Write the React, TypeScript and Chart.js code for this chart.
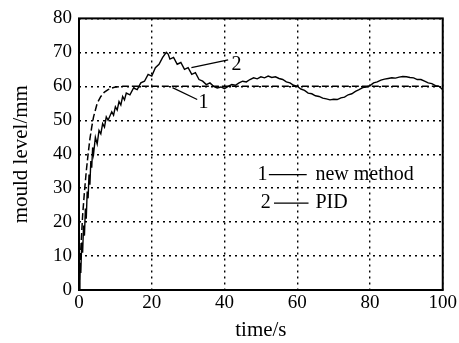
import React, { useEffect, useRef } from "react";
import { Chart, registerables } from "chart.js";

Chart.register(...registerables);

// New method (curve 1)
const newT = [0, 0.5, 1, 1.5, 2, 2.5, 3, 3.5, 4, 5, 6, 7, 8, 9, 10, 12, 20, 40, 60, 80, 100];
const newV = [0, 12, 22, 29, 35, 40, 44.5, 48, 51, 55, 57, 58.3, 59, 59.5, 59.8, 60, 60, 60, 60, 60, 60];

// PID (curve 2)
const pidT = [
  0, 0.25, 0.5, 0.75, 1, 1.25, 1.5, 1.75, 2, 2.25, 2.5, 2.75, 3, 3.25, 3.5, 3.75, 4, 4.5, 5, 5.5,
  6, 6.5, 7, 7.5, 8, 9, 9.5, 10, 10.5, 11, 11.5, 12, 12.5, 13, 14, 15, 16, 17, 18, 19,
  20, 21, 22, 23, 24, 24.5, 25, 26, 27, 28, 29, 30, 31, 32, 33, 34, 35, 36, 37, 38,
  39, 40, 41, 42, 43, 44, 45, 46, 47, 48, 49, 50, 51, 52, 53, 54, 55, 56, 57, 58,
  59, 60, 61, 62, 63, 64, 65, 66, 67, 68, 69, 70, 71, 72, 73, 74, 75, 76, 77, 78,
  79, 80, 81, 82, 83, 84, 85, 86, 87, 88, 89, 90, 91, 92, 93, 94, 95, 96, 97, 98, 99, 100,
];
const pidV = [
  0, 8, 5, 14, 11, 19, 16, 24, 21, 29, 27, 34, 31, 38, 36, 42, 40, 45, 43, 47,
  46, 49, 48, 51, 50, 52.5, 51.5, 54, 53, 55.5, 54.5, 57, 56, 58, 57.5, 59.5, 59, 61, 61.5, 63.5,
  63, 65.5, 66.5, 68.5, 70, 69.5, 68, 68.5, 66.5, 67, 65, 65.5, 63.5, 64, 62, 61.5, 60.5, 61, 60, 59.5,
  59.8, 59.3, 60, 60.5, 60.3, 61, 61.5, 61.3, 62, 62.5, 62.2, 62.8, 62.5, 63, 62.6, 62.8, 62.3, 62, 61.3, 61,
  60.3, 60, 59.2, 58.8, 58, 57.8, 57.2, 57, 56.5, 56.3, 56, 56.2, 56.1, 56.6, 56.8, 57.5, 57.8, 58.5, 59, 59.6,
  59.8, 60.2, 61, 61.3, 61.8, 62.1, 62.3, 62.5, 62.4, 62.7, 62.9, 62.8, 62.6, 62.5, 62, 62, 61.5, 61, 60.8, 60.2, 60, 59,
];

const xTicks = [0, 20, 40, 60, 80, 100];
const yTicks = [0, 10, 20, 30, 40, 50, 60, 70, 80];

const SERIF = '"Liberation Serif", "Times New Roman", serif';

const annotPlugin = {
  id: "annot",
  afterDatasetsDraw(chart: any) {
    const { ctx, chartArea, scales } = chart;
    const x = scales.x;
    const y = scales.y;
    const px = (t: number) => x.getPixelForValue(t);
    const py = (v: number) => y.getPixelForValue(v);
    ctx.save();
    ctx.setLineDash([]);
    ctx.strokeStyle = "#000";
    ctx.lineWidth = 2;
    ctx.strokeRect(chartArea.left, chartArea.top, chartArea.right - chartArea.left, chartArea.bottom - chartArea.top);

    // leader lines
    ctx.lineWidth = 1.2;
    ctx.beginPath();
    ctx.moveTo(px(30.9), py(65.5));
    ctx.lineTo(px(41.0), py(67.8));
    ctx.moveTo(px(25.7), py(59.6));
    ctx.lineTo(px(32.5), py(56.1));
    ctx.stroke();

    ctx.fillStyle = "#000";
    ctx.font = `20px ${SERIF}`;
    ctx.textBaseline = "middle";
    ctx.textAlign = "center";
    ctx.fillText("2", px(43.3), py(66.3));
    ctx.fillText("1", px(34.2), py(55.3));

    // legend
    ctx.textAlign = "right";
    ctx.fillText("1", px(51.8), py(34.0));
    ctx.fillText("2", px(52.7), py(25.6));
    ctx.beginPath();
    ctx.moveTo(px(52.2), py(34.0));
    ctx.lineTo(px(62.6), py(34.0));
    ctx.moveTo(px(53.6), py(25.6));
    ctx.lineTo(px(63.1), py(25.6));
    ctx.stroke();
    ctx.textAlign = "left";
    ctx.fillText("new method", px(65), py(34.0));
    ctx.fillText("PID", px(65), py(25.6));
    ctx.restore();
  },
};

export default function App() {
  const ref = useRef<HTMLCanvasElement | null>(null);
  useEffect(() => {
    if (!ref.current) return;
    const chart = new Chart(ref.current, {
      type: "line",
      data: {
        datasets: [
          {
            label: "new method",
            data: newT.map((t, i) => ({ x: t, y: newV[i] })),
            borderColor: "#000",
            borderWidth: 1.5,
            borderDash: [7, 3],
            pointRadius: 0,
            tension: 0,
            fill: false,
          },
          {
            label: "PID",
            data: pidT.map((t, i) => ({ x: t, y: pidV[i] })),
            borderColor: "#000",
            borderWidth: 1.4,
            pointRadius: 0,
            tension: 0,
            fill: false,
          },
        ],
      },
      options: {
        responsive: false,
        animation: false,
        layout: { padding: { top: 15, right: 14, left: 0, bottom: 0 } },
        plugins: { legend: { display: false }, tooltip: { enabled: false } },
        scales: {
          x: {
            type: "linear",
            min: 0,
            max: 100,
            afterBuildTicks: (s: any) => {
              s.ticks = xTicks.map((v) => ({ value: v }));
            },
            afterFit: (s: any) => {
              s.height = 53;
            },
            ticks: { color: "#000", font: { family: SERIF, size: 19 }, padding: 2, maxRotation: 0 },
            grid: { color: "#000", lineWidth: 1.4, drawTicks: false },
            border: { display: false, dash: [2, 4] },
            title: { display: true, text: "time/s", color: "#000", font: { family: SERIF, size: 21 }, padding: { top: 0, bottom: 0 } },
          },
          y: {
            type: "linear",
            min: 0,
            max: 80,
            afterBuildTicks: (s: any) => {
              s.ticks = yTicks.map((v) => ({ value: v }));
            },
            afterFit: (s: any) => {
              s.width = 79;
            },
            ticks: { color: "#000", font: { family: SERIF, size: 19 }, padding: 7 },
            grid: { color: "#000", lineWidth: 1.4, drawTicks: false },
            border: { display: false, dash: [2, 4] },
            title: { display: true, text: "mould level/mm", color: "#000", font: { family: SERIF, size: 21 }, padding: { top: 9, bottom: 0 } },
          },
        },
      },
      plugins: [annotPlugin],
    } as any);
    return () => chart.destroy();
  }, []);
  return (
    <div style={{ position: "absolute", left: 0, top: 0, width: 459, height: 343, background: "#fff" }}>
      <canvas ref={ref} width={459} height={343} style={{ display: "block" }} />
    </div>
  );
}
